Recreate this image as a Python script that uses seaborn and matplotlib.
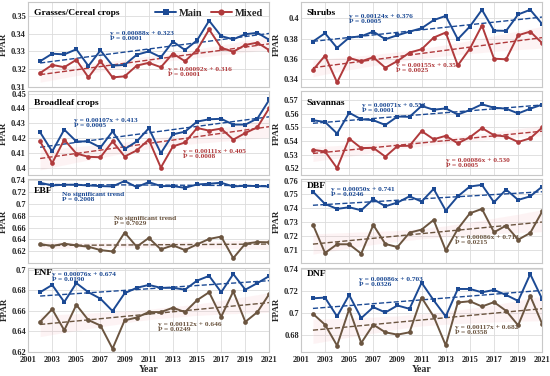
import numpy as np
import pandas as pd
import seaborn as sns
import matplotlib.pyplot as plt

sns.set_style('whitegrid')
plt.rcParams['font.family'] = ['Liberation Serif', 'DejaVu Serif']
plt.rcParams['font.weight'] = 'bold'

years = list(range(2002, 2022))

grass_main = [0.3244, 0.3287, 0.3283, 0.3312, 0.3217, 0.3306, 0.3219, 0.3223, 0.3281, 0.3300,
              0.3267, 0.3356, 0.3308, 0.3363, 0.3475, 0.3387, 0.3369, 0.3398, 0.3406, 0.3365]
grass_mixed = [0.3177, 0.3223, 0.3210, 0.3252, 0.3152, 0.3244, 0.3152, 0.3158, 0.3219, 0.3235,
               0.3210, 0.3288, 0.3244, 0.3308, 0.3425, 0.3321, 0.3298, 0.3337, 0.3350, 0.3306]
shrub_main = [0.3773, 0.3855, 0.3710, 0.3812, 0.3825, 0.3871, 0.3796, 0.3835, 0.3871, 0.3904,
              0.3984, 0.4026, 0.3796, 0.3921, 0.4086, 0.3881, 0.3878, 0.4040, 0.4086, 0.3944]
shrub_mixed = [0.3492, 0.3634, 0.3370, 0.3611, 0.3578, 0.3618, 0.3515, 0.3581, 0.3664, 0.3697,
               0.3812, 0.3862, 0.3538, 0.3703, 0.3931, 0.3604, 0.3598, 0.3835, 0.3871, 0.3756]
broad_main = [0.4239, 0.4109, 0.4257, 0.4177, 0.4177, 0.4136, 0.4245, 0.4125, 0.4177, 0.4266,
              0.4098, 0.4225, 0.4243, 0.4311, 0.4327, 0.4330, 0.4291, 0.4291, 0.4332, 0.4461]
broad_mixed = [0.4177, 0.4030, 0.4189, 0.4095, 0.4073, 0.4070, 0.4177, 0.4075, 0.4116, 0.4189,
               0.4000, 0.4143, 0.4170, 0.4268, 0.4250, 0.4264, 0.4189, 0.4234, 0.4273, 0.4405]
sav_main = [0.5553, 0.5540, 0.5455, 0.5608, 0.5560, 0.5553, 0.5518, 0.5580, 0.5578, 0.5658,
            0.5630, 0.5640, 0.5595, 0.5628, 0.5670, 0.5645, 0.5638, 0.5603, 0.5638, 0.5668]
sav_mixed = [0.5335, 0.5323, 0.5200, 0.5418, 0.5348, 0.5350, 0.5285, 0.5363, 0.5365, 0.5473,
             0.5413, 0.5438, 0.5383, 0.5428, 0.5495, 0.5443, 0.5433, 0.5393, 0.5420, 0.5500]
ebf_main = [0.7360, 0.7314, 0.7326, 0.7326, 0.7314, 0.7303, 0.7297, 0.7389, 0.7286, 0.7371,
            0.7303, 0.7303, 0.7274, 0.7331, 0.7343, 0.7360, 0.7297, 0.7309, 0.7303, 0.7297]
ebf_mixed = [0.6320, 0.6286, 0.6326, 0.6297, 0.6274, 0.6217, 0.6194, 0.6514, 0.6274, 0.6423,
             0.6229, 0.6297, 0.6217, 0.6314, 0.6406, 0.6446, 0.6080, 0.6326, 0.6354, 0.6349]
dbf_main = [0.7520, 0.7431, 0.7395, 0.7407, 0.7385, 0.7465, 0.7414, 0.7441, 0.7486, 0.7448,
            0.7540, 0.7383, 0.7486, 0.7557, 0.7569, 0.7443, 0.7535, 0.7460, 0.7486, 0.7557]
dbf_mixed = [0.7281, 0.7076, 0.7139, 0.7139, 0.7071, 0.7279, 0.7141, 0.7119, 0.7223, 0.7245,
             0.7315, 0.7095, 0.7250, 0.7363, 0.7395, 0.7226, 0.7274, 0.7172, 0.7221, 0.7378]
enf_main = [0.6781, 0.6852, 0.6686, 0.6870, 0.6781, 0.6718, 0.6598, 0.6771, 0.6824, 0.6852,
            0.6824, 0.6824, 0.6806, 0.6894, 0.6940, 0.6781, 0.6958, 0.6806, 0.6870, 0.6940]
enf_mixed = [0.6493, 0.6616, 0.6411, 0.6658, 0.6510, 0.6457, 0.6232, 0.6507, 0.6535, 0.6588,
             0.6588, 0.6630, 0.6588, 0.6704, 0.6781, 0.6542, 0.6789, 0.6493, 0.6588, 0.6767]
dnf_main = [0.7134, 0.7140, 0.6970, 0.7164, 0.6955, 0.7054, 0.7006, 0.7069, 0.7039, 0.7275,
            0.7116, 0.6970, 0.7218, 0.7218, 0.7188, 0.7209, 0.7164, 0.7110, 0.7352, 0.7125]
dnf_mixed = [0.6994, 0.6896, 0.6707, 0.7036, 0.6731, 0.6896, 0.6827, 0.6806, 0.6827, 0.7140,
             0.6970, 0.6710, 0.7096, 0.7107, 0.7060, 0.7099, 0.7021, 0.6890, 0.7155, 0.6900]

names = ['Grasses/Cereal crops', 'Shrubs', 'Broadleaf crops', 'Savannas', 'EBF', 'DBF', 'ENF', 'DNF']
mains = [grass_main, shrub_main, broad_main, sav_main, ebf_main, dbf_main, enf_main, dnf_main]
mixeds = [grass_mixed, shrub_mixed, broad_mixed, sav_mixed, ebf_mixed, dbf_mixed, enf_mixed, dnf_mixed]
main_text = ['y = 0.00088x + 0.323\nP = 0.0001', 'y = 0.00124x + 0.376\nP = 0.0005',
             'y = 0.00107x + 0.413\nP = 0.0005', 'y = 0.00071x + 0.553\nP = 0.0001',
             'No significant trend\nP = 0.2008', 'y = 0.00050x + 0.741\nP = 0.0246',
             'y = 0.00076x + 0.674\nP = 0.0190', 'y = 0.00086x + 0.703\nP = 0.0326']
mixed_text = ['y = 0.00092x + 0.316\nP = 0.0001', 'y = 0.00155x + 0.350\nP = 0.0025',
              'y = 0.00111x + 0.405\nP = 0.0008', 'y = 0.00086x + 0.530\nP = 0.0005',
              'No significant trend\nP = 0.7029', 'y = 0.00086x + 0.713\nP = 0.0215',
              'y = 0.00112x + 0.646\nP = 0.0249', 'y = 0.00117x + 0.682\nP = 0.0358']

ylims = [(0.31, 0.358), (0.333, 0.416), (0.395, 0.452), (0.515, 0.577),
         (0.599, 0.742), (0.70, 0.761), (0.62, 0.702), (0.665, 0.741)]
yticks = [np.arange(0.31, 0.351, 0.01), np.arange(0.34, 0.401, 0.02), np.arange(0.40, 0.451, 0.01),
          np.arange(0.52, 0.571, 0.01), np.arange(0.62, 0.741, 0.02), np.arange(0.71, 0.761, 0.01),
          np.arange(0.62, 0.701, 0.02), np.arange(0.68, 0.741, 0.02)]
title_y = [0.87, 0.87, 0.86, 0.86, 0.86, 0.92, 0.94, 0.92]
main_pos = [(0.34, 0.61), (0.20, 0.81), (0.19, 0.63), (0.255, 0.81),
            (0.14, 0.80), (0.125, 0.86), (0.10, 0.90), (0.24, 0.84)]
mixed_pos = [(0.58, 0.19), (0.395, 0.235), (0.64, 0.26), (0.60, 0.16),
             (0.355, 0.52), (0.64, 0.29), (0.54, 0.31), (0.64, 0.28)]

blue = '#1c4a94'
red = '#b03a3c'
brown = '#6b5540'

fig, axes = plt.subplots(4, 2, figsize=(5.5, 3.76), dpi=100, sharex=True)
fig.subplots_adjust(left=0.051, right=0.986, top=0.994, bottom=0.064, wspace=0.13, hspace=0.05)

for i, ax in enumerate(axes.flat):
    mix_col = red if i < 4 else brown
    df = pd.DataFrame({'Year': years, 'Main': mains[i], 'Mixed': mixeds[i]})

    # faint confidence band of the mixed trend
    sns.regplot(x='Year', y='Mixed', data=df, ax=ax, scatter=False, ci=95, color='#f4a0a8',
                line_kws={'lw': 0})
    sns.regplot(x='Year', y='Main', data=df, ax=ax, scatter=False, ci=None, truncate=True,
                color=blue, line_kws={'ls': '--', 'lw': 1.0})
    sns.regplot(x='Year', y='Mixed', data=df, ax=ax, scatter=False, ci=None, truncate=True,
                color=mix_col, line_kws={'ls': '--', 'lw': 1.0})
    for c in ax.collections:
        c.set_alpha(0.12)

    sns.lineplot(x='Year', y='Main', data=df, ax=ax, color=blue, marker='s', markersize=3.2,
                 markeredgewidth=0, lw=1.4, label='Main')
    sns.lineplot(x='Year', y='Mixed', data=df, ax=ax, color=mix_col, marker='o', markersize=3.4,
                 markeredgewidth=0, lw=1.4, label='Mixed')

    ax.set_xlim(2001, 2021)
    ax.set_xticks(range(2001, 2022, 2))
    ax.set_ylim(*ylims[i])
    ax.set_yticks(yticks[i])
    ax.set_yticklabels(['%g' % round(v, 2) for v in yticks[i]])
    ax.tick_params(labelsize=6, pad=1.5, length=0)
    for lab in ax.get_xticklabels() + ax.get_yticklabels():
        lab.set_fontweight('bold')
    ax.grid(color='#dcdcdc', lw=0.6)
    for s in ax.spines.values():
        s.set_color('#c8c8c8')
        s.set_linewidth(0.8)

    ax.set_ylabel('FPAR', fontsize=6.5, fontweight='bold', labelpad=2)
    if i >= 6:
        ax.set_xlabel('Year', fontsize=7, fontweight='bold', labelpad=1)
        ax.tick_params(axis='x', pad=3)
    else:
        ax.set_xlabel('')

    ax.text(0.025, title_y[i], names[i], transform=ax.transAxes, fontsize=6.8, fontweight='bold',
            va='center', ha='left', color='black')
    ax.text(main_pos[i][0], main_pos[i][1] + 0.045, main_text[i], transform=ax.transAxes,
            fontsize=5.3, fontweight='bold', color=blue, va='top', ha='left', linespacing=1.0)
    ax.text(mixed_pos[i][0], mixed_pos[i][1] + 0.045, mixed_text[i], transform=ax.transAxes,
            fontsize=5.3, fontweight='bold', color=mix_col, va='top', ha='left', linespacing=1.0)

    if i == 0:
        ax.legend(loc='upper right', ncol=2, frameon=False, handlelength=2.0,
                  columnspacing=0.8, handletextpad=0.3, borderaxespad=0.2, markerscale=1.3,
                  prop={'weight': 'bold', 'size': 7.5})
    else:
        ax.get_legend().remove()

plt.savefig('out.png', dpi=100)
